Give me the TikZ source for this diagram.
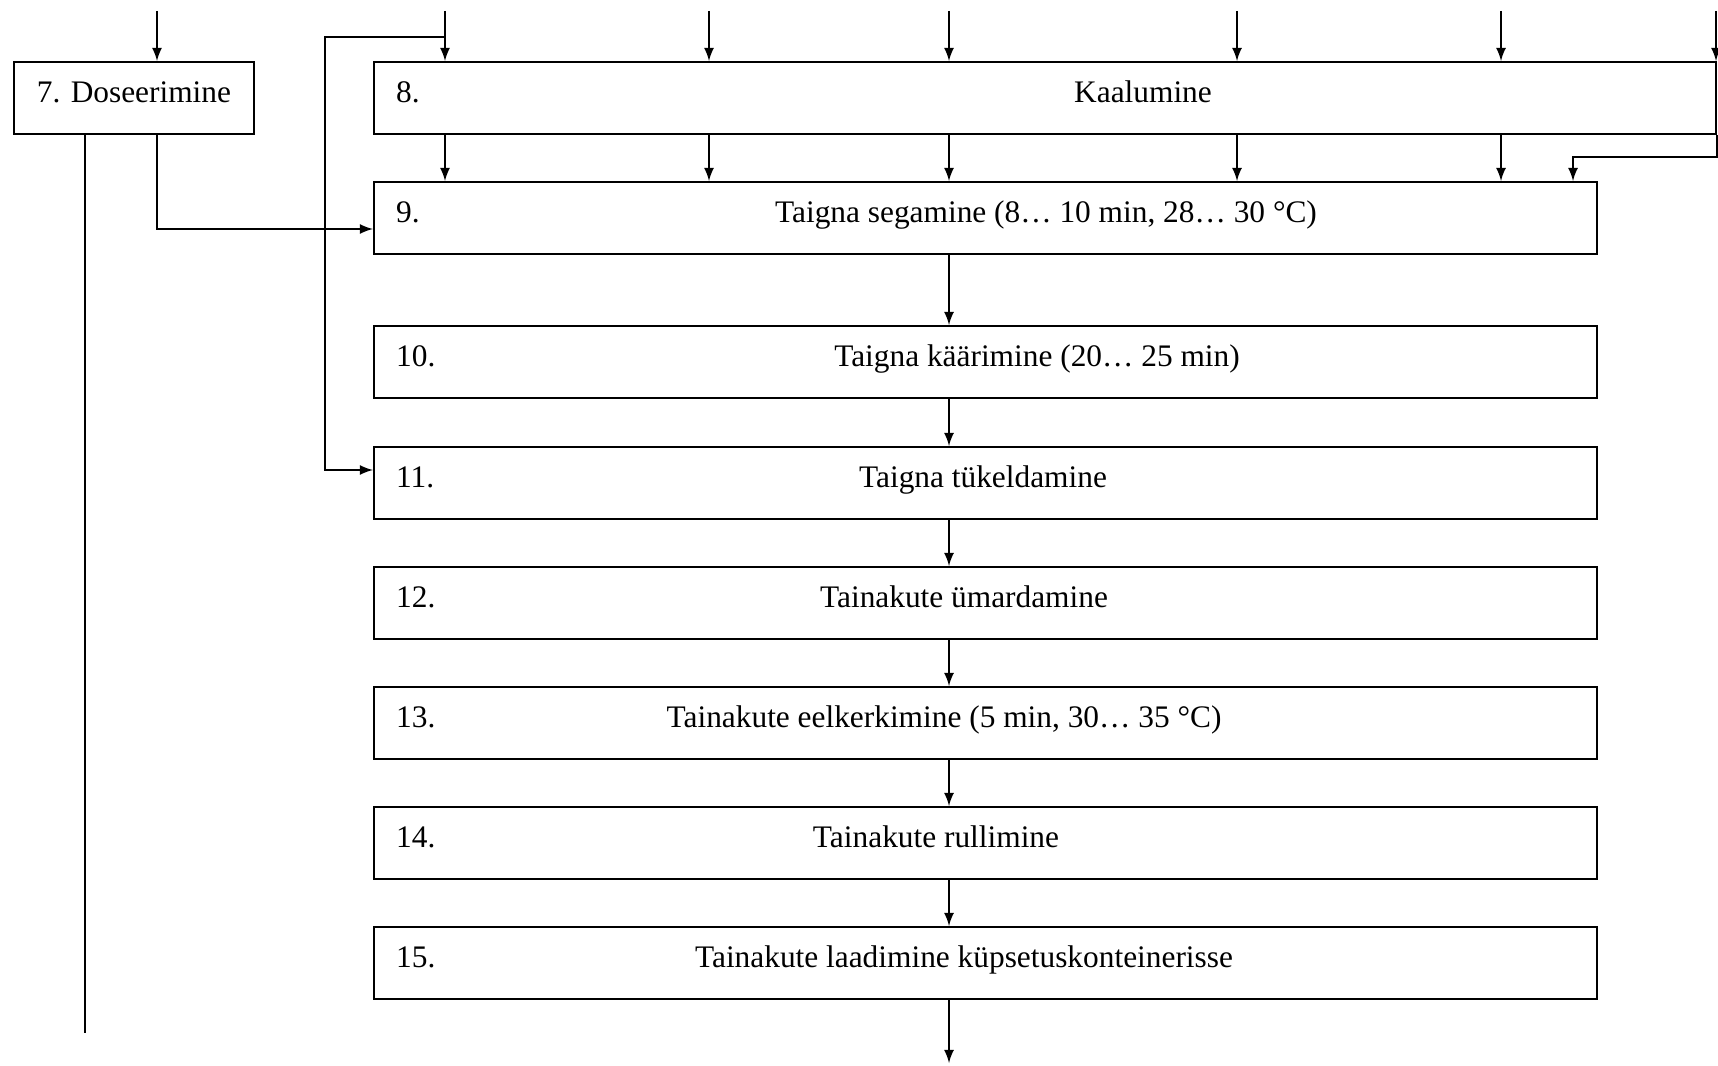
\documentclass[tikz,border=0pt]{standalone}
\usepackage{fontspec}
\setmainfont{Liberation Serif}
\usetikzlibrary{arrows,calc,positioning}
\tikzset{stepbox/.style={draw, rectangle, inner sep=0pt, minimum height=1.01cm, anchor=north west}}
\tikzset{numlab/.style={anchor=base west, inner sep=0pt, xshift=0.31cm, yshift=-0.06cm}}
\tikzset{steptext/.style={anchor=base, inner sep=0pt, yshift=-0.06cm}}

\begin{document}
\begin{tikzpicture}[x=0.014cm, y=-0.014cm, >=latex, thick, font=\fontsize{12.5}{15}\selectfont]
\useasboundingbox (0,0) rectangle (1718,1066);
% dosing and weighing
\node[stepbox, minimum width=3.36cm] (S7) at (13,61) {};
\node[steptext] (T7) at (S7.center) {7. Doseerimine};
\node[stepbox, minimum width=18.8cm] (S8) at (373,61) {};
\node[numlab] (N8) at (S8.west) {8.};
\node[steptext] (T8) at (S8.center -| 1143,0) {Kaalumine};
% process steps
\foreach \n/\y/\x/\t in {9/181/1046/{Taigna segamine (8… 10 min, 28… 30 °C)},
  10/325/1037/{Taigna käärimine (20… 25 min)},
  11/446/983/{Taigna tükeldamine},
  12/566/964/{Tainakute ümardamine},
  13/686/944/{Tainakute eelkerkimine (5 min, 30… 35 °C)},
  14/806/936/{Tainakute rullimine},
  15/926/964/{Tainakute laadimine küpsetuskonteinerisse}}{
  \node[stepbox, minimum width=17.136cm] (S\n) at (373,\y) {};
  \node[numlab] (N\n) at (S\n.west) {\n.};
  \node[steptext] (T\n) at (S\n.center -| \x,0) {\t};
}
% inputs
\coordinate (in0) at (157,11);
\draw[->] (in0) -- (S7.north -| in0);
\foreach \x [count=\i] in {445,709,949,1237,1501,1716}{
  \coordinate (in\i) at (\x,11);
  \draw[->] (in\i) -- (S8.north -| in\i);
}
\foreach \x in {445,709,949,1237,1501}
  \draw[->] (S8.south -| \x,0) -- (S9.north -| \x,0);
\coordinate (k) at (1573,157);
\draw[->] (S8.south east) |- (k) -- (S9.north -| k);
\draw[->] (in1 |- 0,37) -| (325,470) -- (S11.west |- 0,470);
\draw[->] (S7.south -| in0) |- (S9.west |- 0,229);
\coordinate (d7) at (85,1033);
\draw (S7.south -| d7) -- (d7);
% chain
\foreach \a/\b in {9/10,10/11,11/12,12/13,13/14,14/15}
  \draw[->] (S\a.south -| 949,0) -- (S\b.north -| 949,0);
\coordinate (out) at (949,1063);
\draw[->] (S15.south -| out) -- (out);
\end{tikzpicture}
\end{document}
